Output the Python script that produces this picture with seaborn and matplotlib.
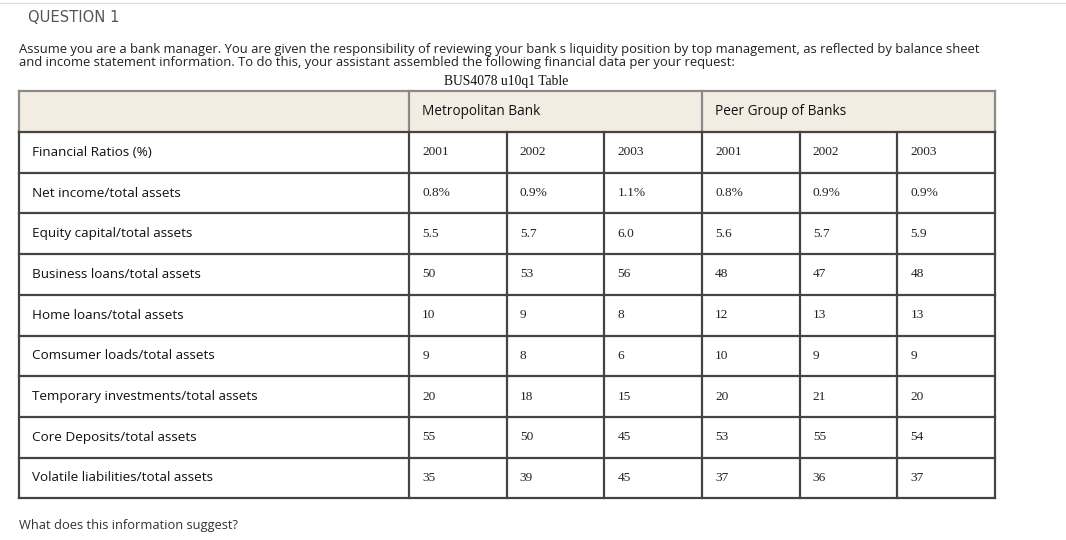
import numpy as np
import pandas as pd
import matplotlib.pyplot as plt
import seaborn as sns

sns.set_style("white")
plt.rcParams['font.family'] = ['Open Sans', 'DejaVu Sans']

# Data

ratios = ['Net income/total assets', 'Equity capital/total assets',
          'Business loans/total assets', 'Home loans/total assets',
          'Comsumer loads/total assets', 'Temporary investments/total assets',
          'Core Deposits/total assets', 'Volatile liabilities/total assets']
groups = ['Metropolitan Bank', 'Peer Group of Banks']
years = ['2001', '2002', '2003']
metro = [[0.8, 0.9, 1.1], [5.5, 5.7, 6.0], [50, 53, 56], [10, 9, 8],
         [9, 8, 6], [20, 18, 15], [55, 50, 45], [35, 39, 45]]
peer = [[0.8, 0.9, 0.9], [5.6, 5.7, 5.9], [48, 47, 48], [12, 13, 13],
        [10, 9, 9], [20, 21, 20], [53, 55, 54], [37, 36, 37]]

question = 'QUESTION 1'
intro = ['Assume you are a bank manager. You are given the responsibility of reviewing your bank s liquidity position by top management, as reflected by balance sheet',
         'and income statement information. To do this, your assistant assembled the following financial data per your request:']
caption = 'BUS4078 u10q1 Table'
footer = 'What does this information suggest?'

cols = [f'{g} {y}' for g in groups for y in years]
df = pd.DataFrame(np.hstack([metro, peer]), index=ratios, columns=cols)
fmt = ['{:.1f}%', '{:.1f}', '{:.0f}', '{:.0f}', '{:.0f}', '{:.0f}', '{:.0f}', '{:.0f}']
labels = np.array([[fmt[i].format(v) for v in df.iloc[i]] for i in range(len(ratios))])

# Layout (pixels)

W, H = 1066, 540
x_left, x_lab, x_right = 19, 409, 995
cw = (x_right - x_lab) / 6
y_top, y_hdr = 91, 132
rh = 40.7
n_rows = len(ratios) + 1
y_bot = y_hdr + n_rows * rh

fig = plt.figure(figsize=(W / 100, H / 100), dpi=100)

# values block
hm = fig.add_axes([x_lab / W, 1 - y_bot / H, (x_right - x_lab) / W, (len(ratios) * rh) / H])
sns.heatmap(df, ax=hm, cmap=sns.color_palette(['white'], as_cmap=True), cbar=False,
            annot=labels, fmt='', xticklabels=False, yticklabels=False,
            annot_kws={'family': 'Liberation Serif', 'size': 9.6, 'color': '#222222'})
for t in hm.texts:
    x, y = t.get_position()
    t.set_position((x - 0.5 + 0.135, y))
    t.set_ha('left')
hm.axis('off')

# overlay for text and grid
ov = fig.add_axes([0, 0, 1, 1], facecolor='none')
ov.set_xlim(0, W)
ov.set_ylim(H, 0)
ov.axis('off')

ov.plot([0, W], [3, 3], color='#dddddd', lw=1)
ov.text(28, 18, question, fontsize=10.6, color='#555555', va='center', family='DejaVu Sans')
for i, line in enumerate(intro):
    ov.text(x_left, 49 + i * 13.5, line, fontsize=9.4, color='#222222', va='center')
ov.text(506, 81, caption, fontsize=9.8, family='Liberation Serif', ha='center', va='center', color='#111111')
ov.text(x_left, 525, footer, fontsize=9.3, color='#333333', va='center')

ov.add_patch(plt.Rectangle((x_left, y_top), x_right - x_left, y_hdr - y_top, color='#f3ece3', zorder=0))

# header text
for g, name in enumerate(groups):
    ov.text(x_lab + g * 3 * cw + 13, (y_top + y_hdr) / 2, name, fontsize=9.8, color='#111111', va='center')
ov.text(x_left + 13, y_hdr + rh / 2, 'Financial Ratios (%)', fontsize=9.7, color='#111111', va='center')
for j in range(6):
    ov.text(x_lab + j * cw + 13, y_hdr + rh / 2, years[j % 3], fontsize=9.6,
            family='Liberation Serif', color='#222222', va='center')
for i, r in enumerate(ratios):
    ov.text(x_left + 13, y_hdr + (i + 1.5) * rh, r, fontsize=9.7, color='#111111', va='center')

# grid lines
def seg(xs, ys, c='#444444'):
    ov.plot(xs, ys, color=c, lw=1.6, solid_capstyle='projecting')

seg([x_left, x_right], [y_top, y_top], '#8a8a8a')
for x in [x_left, x_lab, x_lab + 3 * cw, x_right]:
    seg([x, x], [y_top, y_hdr], '#8a8a8a')
for i in range(n_rows + 1):
    seg([x_left, x_right], [y_hdr + i * rh] * 2)
for x in [x_left, x_lab, x_lab + 3 * cw, x_right]:
    seg([x, x], [y_hdr, y_bot])
for j in [1, 2, 4, 5]:
    seg([x_lab + j * cw] * 2, [y_hdr, y_bot])

plt.savefig('out.png', dpi=100)
plt.close()
